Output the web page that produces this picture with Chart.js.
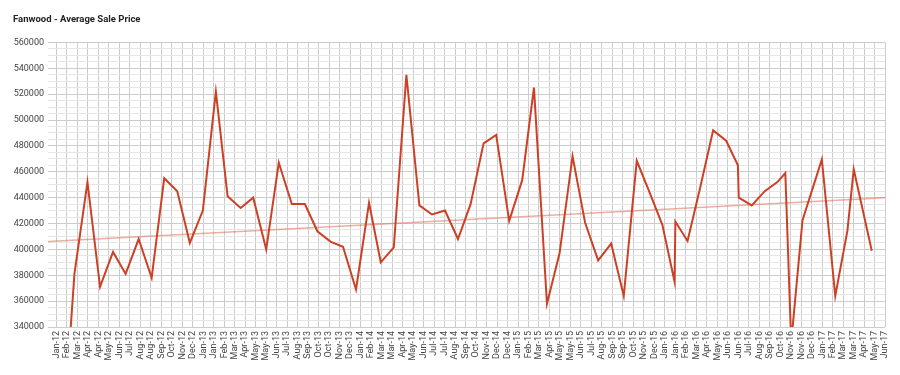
<!DOCTYPE html>
<html><head><meta charset="utf-8">
<script src="https://cdn.jsdelivr.net/npm/chart.js@4"></script>
<style>html,body{margin:0;padding:0;background:#fff}</style>
</head><body>
<canvas id="c" width="900" height="375"></canvas>
<script>
const chartTitle = 'Fanwood - Average Sale Price';

const saleDates = [
  '2012-02-01','2012-03-01','2012-04-01','2012-05-01','2012-06-01','2012-07-01','2012-08-01','2012-09-01','2012-10-01','2012-11-01','2012-12-01',
  '2013-01-01','2013-02-01','2013-03-01','2013-04-01','2013-05-01','2013-06-01','2013-07-01','2013-08-01','2013-09-01','2013-10-01','2013-11-01','2013-12-01',
  '2014-01-01','2014-02-01','2014-03-01','2014-04-01','2014-05-01','2014-06-01','2014-07-01','2014-08-01','2014-09-01','2014-10-01','2014-11-01','2014-12-01',
  '2015-01-01','2015-02-01','2015-03-01','2015-04-01','2015-05-01','2015-06-01','2015-07-01','2015-08-01','2015-09-01','2015-10-01','2015-11-01','2015-12-01',
  '2016-01-01','2016-01-30','2016-02-01','2016-03-01','2016-04-01','2016-05-01','2016-06-01','2016-06-29','2016-07-01','2016-08-01','2016-09-01','2016-10-01','2016-10-20','2016-11-03','2016-11-30',
  '2017-01-15','2017-02-16','2017-03-17','2017-04-01','2017-05-14'
];
const avgPrices = [
  246000,381000,452000,371000,398000,381000,408000,378000,455000,445000,405000,
  430000,522000,441000,432000,440000,400000,467000,435000,435000,414000,406000,402000,
  369000,436000,390000,401500,535000,434000,427000,430000,408000,435000,482000,488500,
  422000,453500,525000,358000,397000,472000,420500,391500,404500,364000,468500,444500,
  419000,375000,421500,406500,449000,492000,484000,465000,440000,434000,445000,452000,459000,328000,422500,
  469500,364000,414500,462000,399000
];
const trendValues = [406000, 440000];

const xTickLabels = [
  'Jan-12','Feb-12','Mar-12','Apr-12','Apr-12','May-12','Jun-12','Jul-12','Aug-12','Aug-12','Sep-12','Oct-12','Nov-12','Dec-12',
  'Jan-13','Jan-13','Feb-13','Mar-13','Apr-13','May-13','May-13','Jun-13','Jul-13','Aug-13','Sep-13','Oct-13','Oct-13','Nov-13','Dec-13',
  'Jan-14','Feb-14','Mar-14','Mar-14','Apr-14','May-14','Jun-14','Jul-14','Jul-14','Aug-14','Sep-14','Oct-14','Nov-14','Dec-14','Dec-14',
  'Jan-15','Feb-15','Mar-15','Apr-15','May-15','May-15','Jun-15','Jul-15','Aug-15','Sep-15','Sep-15','Oct-15','Nov-15','Dec-15',
  'Jan-16','Jan-16','Feb-16','Mar-16','Apr-16','May-16','Jun-16','Jun-16','Jul-16','Aug-16','Sep-16','Oct-16','Nov-16','Nov-16','Dec-16',
  'Jan-17','Feb-17','Mar-17','Mar-17','Apr-17','May-17','Jun-17'
];
const xTickStartDate = '2012-01-18';
const xTickStepDays = 25;
const yTickValues = [340000,360000,380000,400000,420000,440000,460000,480000,500000,520000,540000,560000];

const EPOCH = Date.UTC(2012, 0, 1);
function dayNum(s) {
  const p = s.split('-').map(Number);
  return (Date.UTC(p[0], p[1] - 1, p[2]) - EPOCH) / 86400000;
}
const tickStart = dayNum(xTickStartDate);
const xMin = tickStart - 0.8 * xTickStepDays;
const xMax = tickStart + (xTickLabels.length - 1) * xTickStepDays;

const mainPoints = saleDates.map((d, i) => ({ x: dayNum(d), y: avgPrices[i] }));
const trendPoints = [{ x: xMin, y: trendValues[0] }, { x: xMax, y: trendValues[1] }];

const FONT = 'Roboto, "Noto Sans", Arial, sans-serif';

new Chart(document.getElementById('c'), {
  type: 'line',
  data: {
    datasets: [
      { data: mainPoints, borderColor: '#cc4125', borderWidth: 2, pointRadius: 0, tension: 0, order: 0 },
      { data: trendPoints, borderColor: 'rgba(220,110,85,0.55)', borderWidth: 1.5, pointRadius: 0, tension: 0, order: 1 }
    ]
  },
  options: {
    responsive: false,
    animation: false,
    devicePixelRatio: 1,
    layout: { padding: { left: 13, right: 12, top: 0, bottom: 0 } },
    plugins: {
      legend: { display: false },
      tooltip: { enabled: false },
      title: {
        display: true, text: chartTitle, align: 'start', color: '#222',
        font: { family: FONT, size: 9.5, weight: 'bold' },
        padding: { top: 14, bottom: 17 }
      }
    },
    scales: {
      x: {
        type: 'linear', min: xMin, max: xMax,
        afterBuildTicks: s => { s.ticks = xTickLabels.map((l, i) => ({ value: tickStart + i * xTickStepDays })); },
        afterFit: s => { s.height = 48; },
        border: { display: false },
        grid: { color: '#cccccc', lineWidth: 1, drawTicks: false },
        ticks: {
          autoSkip: false, minRotation: 90, maxRotation: 90, padding: 4,
          color: '#444', font: { family: FONT, size: 9 },
          callback: (v, i) => xTickLabels[i]
        }
      },
      y: {
        min: 340000, max: 560000,
        afterBuildTicks: s => {
          const t = [];
          for (let i = 0; i < yTickValues.length; i++) {
            t.push({ value: yTickValues[i] });
            if (i < yTickValues.length - 1) {
              const a = yTickValues[i], b = yTickValues[i + 1];
              for (let k = 1; k < 4; k++) t.push({ value: a + k * (b - a) / 4 });
            }
          }
          s.ticks = t;
        },
        afterFit: s => { s.width = 35; },
        border: { display: false },
        grid: {
          drawTicks: false, lineWidth: 1,
          color: c => (c.tick && yTickValues.includes(c.tick.value)) ? '#cccccc' : '#e6e6e6'
        },
        ticks: {
          autoSkip: false, padding: 4, color: '#444', font: { family: FONT, size: 9 },
          callback: v => yTickValues.includes(v) ? String(v) : ''
        }
      }
    }
  }
});
</script>
</body></html>
